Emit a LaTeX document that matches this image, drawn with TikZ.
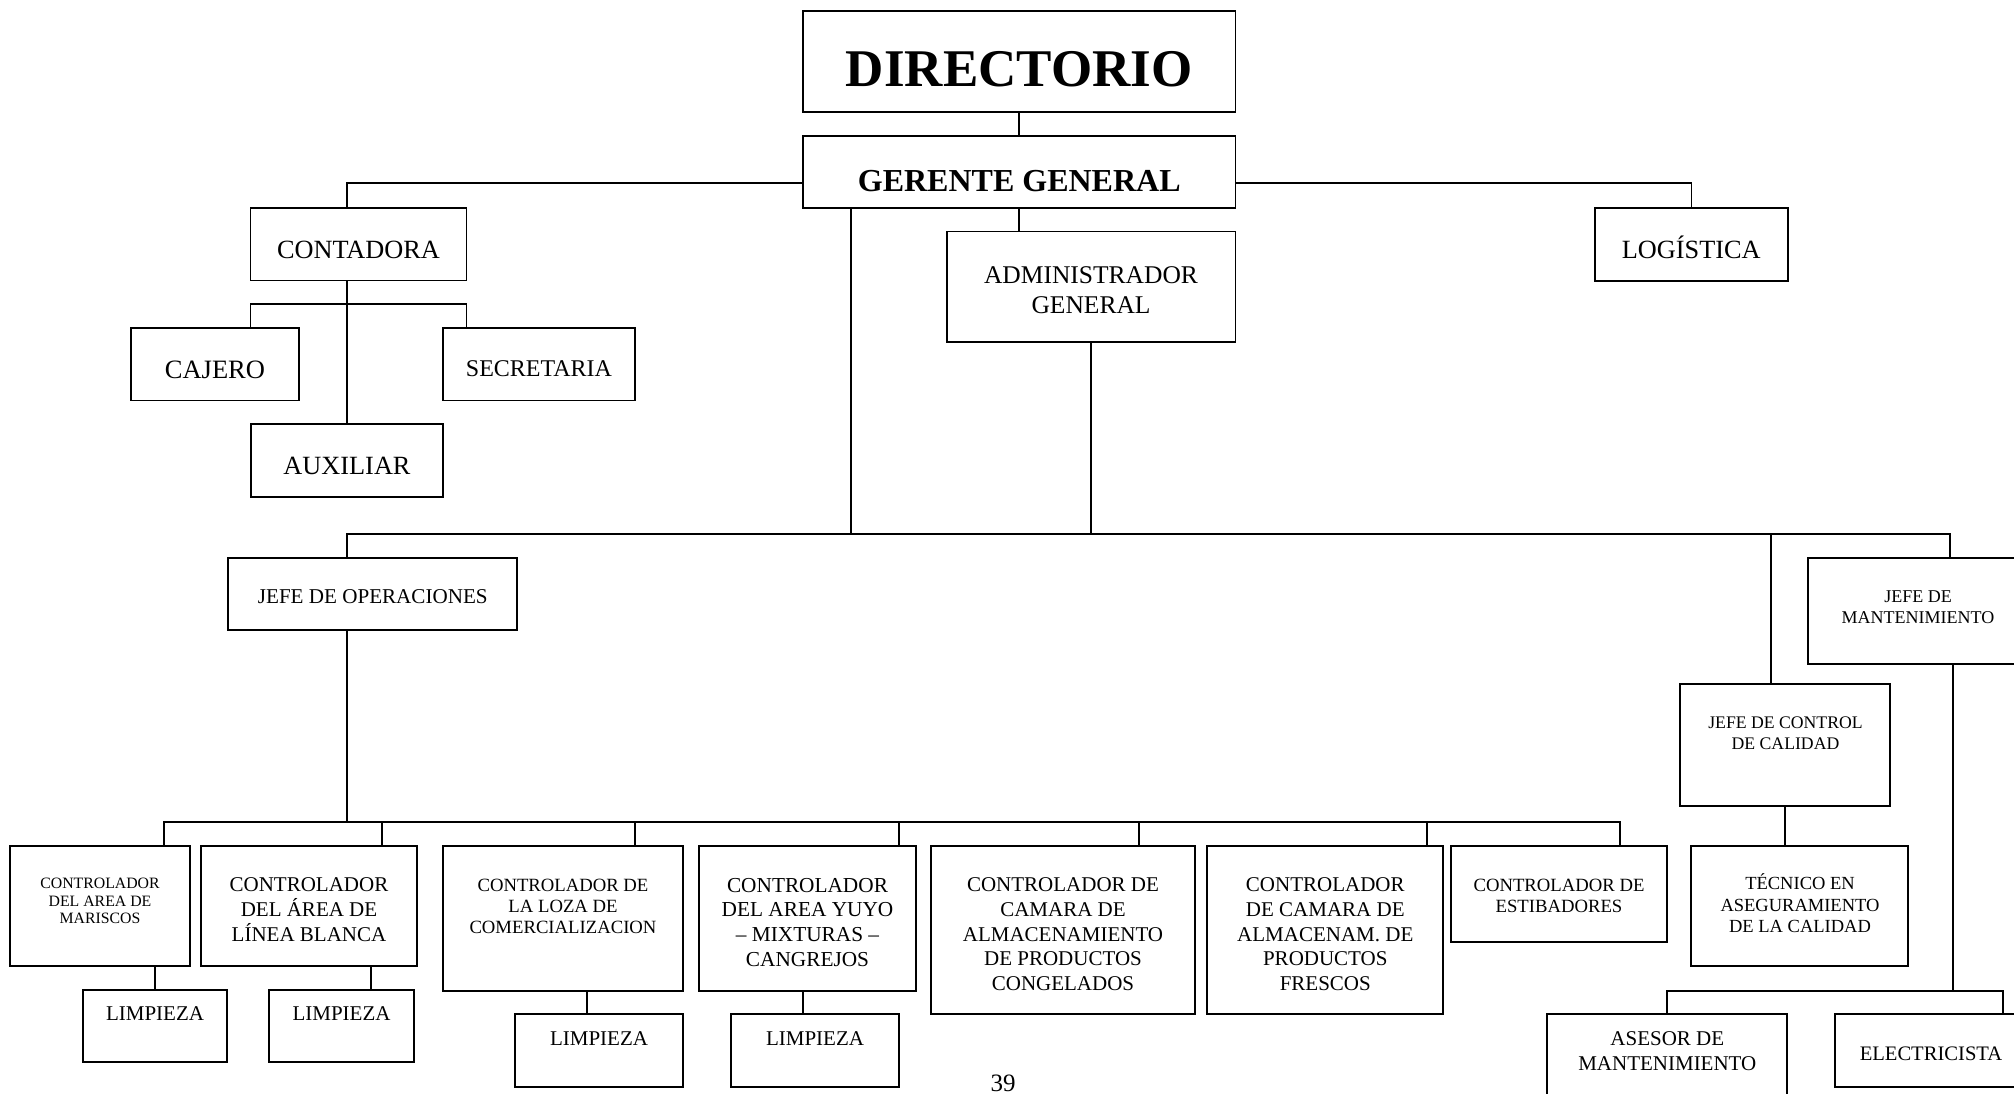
\documentclass[tikz,border=0pt]{standalone}
\usepackage{fontspec}
\setmainfont{Liberation Serif}
\usetikzlibrary{fit}
\newcommand\fsz[2]{\fontsize{#1}{#2}\selectfont}
\begin{document}
\begin{tikzpicture}[x=1pt,y=-1pt,
  box/.style={draw, line width=1.7pt, inner sep=0pt, outer sep=0pt},
  lbl/.style={inner sep=0pt, outer sep=0pt, align=center},
  conn/.style={line width=1.7pt}]
\useasboundingbox (0,0) rectangle (2014,1093);
\fill[white] (0,0) rectangle (2014,1093);
\clip (0,0) rectangle (2014,1093);
% ---- top
\node[box, fit={(803,11) (1235.5,112)}] (dir) {};
\node[lbl, font=\bfseries\fsz{53}{60}] (dirt) at (1019.25,69.2) {DIRECTORIO};
\node[box, fit={(803,136) (1235.5,208)}] (ger) {};
\node[lbl, font=\bfseries\fsz{32}{38}] (gert) at (1019.25,181.3) {GERENTE GENERAL};
\node[box, fit={(250.5,208.3) (466.5,280.5)}] (cont) {};
\node[lbl, font=\fsz{26.3}{30}] (contt) at (358.5,250) {CONTADORA};
\node[box, fit={(1595,208.3) (1787.7,280.7)}] (log) {};
\node[lbl, font=\fsz{26.3}{30}] (logt) at (1691.3,250) {LOG\smash{Í}STICA};
\node[box, fit={(130.7,327.7) (299,400.5)}] (caj) {};
\node[lbl, font=\fsz{26.5}{30}] (cajt) at (215,370) {CAJERO};
\node[box, fit={(443,327.7) (635,400.5)}] (sec) {};
\node[lbl, font=\fsz{24}{28}] (sect) at (539,369) {SECRETARIA};
\node[box, fit={(250.7,424) (443.3,497)}] (aux) {};
\node[lbl, font=\fsz{26.3}{30}] (auxt) at (347,466) {AUXILIAR};
\node[box, fit={(946.7,231.5) (1235.5,342)}] (adm) {};
\node[lbl, font=\fsz{25.5}{30}] (admt) at (1091,290) {ADMINISTRADOR\\GENERAL};
% ---- middle
\node[box, fit={(228.3,558.3) (517.3,630)}] (jops) {};
\node[lbl, font=\fsz{21.1}{25}] (jopst) at (372.8,597) {JEFE DE OPERACIONES};
\node[box, fit={(1808,558.3) (2028,664.3)}] (jman) {};
\node[lbl, font=\fsz{18}{21}] (jmant) at (1918,607.2) {JEFE DE\\MANTENIMIENTO};
\node[box, fit={(1680,684.3) (1890,805.7)}] (jcc) {};
\node[lbl, font=\fsz{17.7}{21.3}] (jcct) at (1785.5,733.3) {JEFE DE CONTROL\\DE CALIDAD};
\node[box, fit={(1691.3,846) (1908,966)}] (tec) {};
\node[lbl, font=\fsz{18.5}{21.7}] (tect) at (1800,905) {T\smash{É}CNICO EN\\ASEGURAMIENTO\\DE LA CALIDAD};
% ---- bottom row
\node[box, fit={(10,846) (190,966)}] (mar) {};
\node[lbl, font=\fsz{15.8}{17.7}] (mart) at (100,901) {CONTROLADOR\\DEL AREA DE\\MARISCOS};
\node[box, fit={(201,846) (417.3,966)}] (blanca) {};
\node[lbl, font=\fsz{21}{25}] (blancat) at (309,910) {CONTROLADOR\\DEL ÁREA DE\\LÍNEA BLANCA};
\node[box, fit={(442.7,846) (683.3,990.7)}] (loza) {};
\node[lbl, font=\fsz{18.7}{21}] (lozat) at (563,906) {CONTROLADOR DE\\LA LOZA DE\\COMERCIALIZACION};
\node[box, fit={(699.3,846) (915.7,990.7)}] (yuyo) {};
\node[lbl, font=\fsz{21.3}{24.7}] (yuyot) at (807.5,922.2) {CONTROLADOR\\DEL AREA YUYO\\– MIXTURAS –\\CANGREJOS};
\node[box, fit={(931,846) (1195,1014.3)}] (cong) {};
\node[lbl, font=\fsz{21}{24.6}] (congt) at (1063,934.2) {CONTROLADOR DE\\CAMARA DE\\ALMACENAMIENTO\\DE PRODUCTOS\\CONGELADOS};
\node[box, fit={(1207.3,846) (1443.3,1014.3)}] (fres) {};
\node[lbl, font=\fsz{21}{24.6}] (frest) at (1325.3,934.2) {CONTROLADOR\\DE CAMARA DE\\ALMACENAM. DE\\PRODUCTOS\\FRESCOS};
\node[box, fit={(1450.7,846) (1667.3,942.3)}] (esti) {};
\node[lbl, font=\fsz{18.7}{21}] (estit) at (1559,895.5) {CONTROLADOR DE\\ESTIBADORES};
\node[box, fit={(82.7,990) (227.3,1062.3)}] (limA) {};
\node[lbl, font=\fsz{21}{25}] (limAt) at (155,1013.3) {LIMPIEZA};
\node[box, fit={(269.3,990) (414,1062.3)}] (limB) {};
\node[lbl, font=\fsz{21}{25}] (limBt) at (341.5,1013.3) {LIMPIEZA};
\node[box, fit={(515,1014.3) (683.3,1086.7)}] (limC) {};
\node[lbl, font=\fsz{21}{25}] (limCt) at (599,1038.3) {LIMPIEZA};
\node[box, fit={(731,1014.3) (899.3,1086.7)}] (limD) {};
\node[lbl, font=\fsz{21}{25}] (limDt) at (815,1038.3) {LIMPIEZA};
\node[box, fit={(1547.3,1014.3) (1787.3,1110)}] (ase) {};
\node[lbl, font=\fsz{21}{25}] (aset) at (1667.3,1050.8) {ASESOR DE\\MANTENIMIENTO};
\node[box, fit={(1835,1014.3) (2027,1086.7)}] (ele) {};
\node[lbl, font=\fsz{20.6}{24}] (elet) at (1931,1053.3) {ELECTRICISTA};
\node[lbl, font=\fsz{25}{30}] (pag) at (1003,1083.3) {39};
% ---- connectors
\coordinate (cb) at (347,304.3);
\coordinate (gb) at (851,534);
\coordinate (jcx) at (1771.3,534);
\coordinate (jmx) at (1950,534);
\coordinate (ob) at (347,822);
\coordinate (d1) at (164,822);
\coordinate (d2) at (382,822);
\coordinate (d3) at (635,822);
\coordinate (d4) at (899.3,822);
\coordinate (d5) at (1139.3,822);
\coordinate (d6) at (1427.3,822);
\coordinate (d7) at (1619.7,822);
\coordinate (e2) at (370.7,0);
\coordinate (e3) at (587.3,0);
\coordinate (e4) at (803,0);
\coordinate (mv) at (1953,990.7);
\coordinate (ev) at (2003.3,990.7);
\draw[conn] (dir.south) -- (ger.north);
\draw[conn] ([yshift=-11.3pt]ger.west) -| (cont.north -| aux.north);
\draw[conn] ([yshift=-11.3pt]ger.east) -| (log.north);
\draw[conn] (ger.south) -- (ger.south |- adm.north);
\draw[conn] (cont.south -| aux.north) -- (aux.north);
\draw[conn] (caj.north -| cont.west) |- (cb) -| (sec.north -| cont.east);
\draw[conn] (ger.south -| gb) -- (gb);
\draw[conn] (adm.south) -- (adm.south |- gb);
\draw[conn] (jops.north -| aux.north) |- (jmx) -- (jmx |- jman.north);
\draw[conn] (jcx) -- (jcx |- jcc.north);
\draw[conn] (jops.south -| aux.north) -- (ob);
\draw[conn] (d1 |- mar.north) -- (d1) -- (d7) -- (d7 |- esti.north);
\foreach \c/\n in {d2/blanca,d3/loza,d4/yuyo,d5/cong,d6/fres}
  \draw[conn] (\c) -- (\c |- \n.north);
\draw[conn] (mar.south -| limA.north) -- (limA.north);
\draw[conn] (blanca.south -| e2) -- (limB.north -| e2);
\draw[conn] (loza.south -| e3) -- (limC.north -| e3);
\draw[conn] (yuyo.south -| e4) -- (limD.north -| e4);
\draw[conn] (jcc.south) -- (jcc.south |- tec.north);
\draw[conn] (jman.south -| mv) -- (mv);
\draw[conn] (ase.north) |- (ev) -- (ev |- ele.north);
\end{tikzpicture}
\end{document}
